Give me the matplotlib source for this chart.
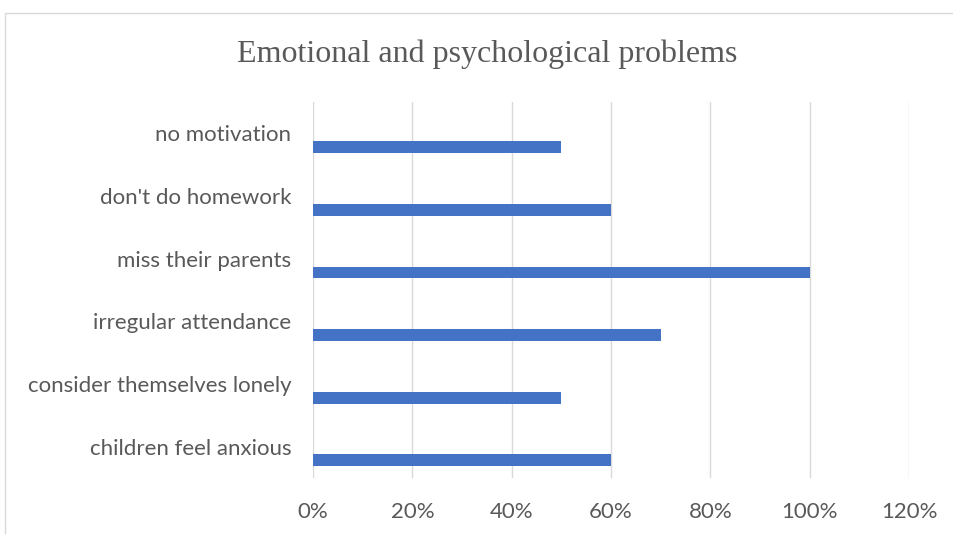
import matplotlib
matplotlib.use("Agg")
import matplotlib.pyplot as plt
from matplotlib.patches import Rectangle
from matplotlib.ticker import FuncFormatter

categories = ["children feel anxious", "consider themselves lonely", "irregular attendance",
              "miss their parents", "don't do homework", "no motivation"]
values = [0.60, 0.50, 0.70, 1.00, 0.60, 0.50]
xticks = [0, 0.2, 0.4, 0.6, 0.8, 1.0, 1.2]

grey = "#595959"
fig = plt.figure(figsize=(9.54, 5.34), dpi=100)

# light frame of the chart area
fig.patches.append(Rectangle((5 / 954, -0.1), 1.2, 1 - 13 / 534 + 0.1, transform=fig.transFigure,
                             fill=False, edgecolor="#d9d9d9", linewidth=1))

ax = fig.add_axes([313 / 954, 1 - 478 / 534, 596 / 954, 376 / 534])
pos = list(range(len(categories)))
ax.barh([p - 0.22 for p in pos], values, height=0.19, color="#4472C4", zorder=3)

ax.set_xlim(0, 1.2)
ax.set_ylim(-0.5, len(categories) - 0.5)
ax.set_xticks(xticks)
ax.xaxis.set_major_formatter(FuncFormatter(lambda v, p: f"{v * 100:.0f}%"))
ax.set_yticks(pos)
ax.set_yticklabels(categories)
ax.grid(axis="x", color="#d9d9d9", linewidth=1, zorder=0)
for s in ax.spines.values():
    s.set_visible(False)
ax.tick_params(axis="both", length=0, colors=grey, labelsize=16)
ax.tick_params(axis="y", pad=15.5)
ax.tick_params(axis="x", pad=17)
for lab in ax.get_xticklabels() + ax.get_yticklabels():
    lab.set_family("Lato")

fig.text(487 / 954, 1 - 54 / 534, "Emotional and psychological problems", ha="center", va="center",
         fontsize=23, color=grey, family="Liberation Serif")

fig.savefig("out.png", dpi=100)
